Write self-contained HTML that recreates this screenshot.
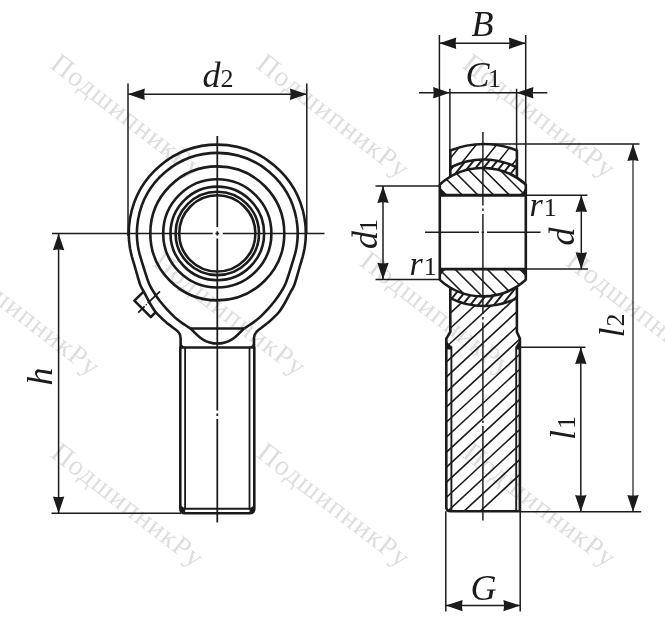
<!DOCTYPE html>
<html lang="ru"><head><meta charset="utf-8"><title>Подшипник</title>
<style>
html,body{margin:0;padding:0;background:#fff;}
body{width:665px;height:633px;overflow:hidden;font-family:"Liberation Serif",serif;}
svg{display:block;will-change:transform;}
</style></head><body>
<svg width="665" height="633" viewBox="0 0 665 633">
<g font-family="'Liberation Serif', serif">
<text x="49" y="67" font-size="28" fill="#dedede" stroke="none" transform="rotate(37.7 49 67)" letter-spacing="1.1">ПодшипникРу</text>
<text x="255" y="67" font-size="28" fill="#dedede" stroke="none" transform="rotate(37.7 255 67)" letter-spacing="1.1">ПодшипникРу</text>
<text x="461" y="67" font-size="28" fill="#dedede" stroke="none" transform="rotate(37.7 461 67)" letter-spacing="1.1">ПодшипникРу</text>
<text x="-54.5" y="265" font-size="28" fill="#dedede" stroke="none" transform="rotate(37.7 -54.5 265)" letter-spacing="1.1">ПодшипникРу</text>
<text x="151.5" y="265" font-size="28" fill="#dedede" stroke="none" transform="rotate(37.7 151.5 265)" letter-spacing="1.1">ПодшипникРу</text>
<text x="358.5" y="264.5" font-size="28" fill="#dedede" stroke="none" transform="rotate(37.7 358.5 264.5)" letter-spacing="1.1">ПодшипникРу</text>
<text x="564.5" y="264.5" font-size="28" fill="#dedede" stroke="none" transform="rotate(37.7 564.5 264.5)" letter-spacing="1.1">ПодшипникРу</text>
<text x="49.5" y="456" font-size="28" fill="#dedede" stroke="none" transform="rotate(37.7 49.5 456)" letter-spacing="1.1">ПодшипникРу</text>
<text x="255.5" y="456" font-size="28" fill="#dedede" stroke="none" transform="rotate(37.7 255.5 456)" letter-spacing="1.1">ПодшипникРу</text>
<text x="461.5" y="456" font-size="28" fill="#dedede" stroke="none" transform="rotate(37.7 461.5 456)" letter-spacing="1.1">ПодшипникРу</text>
</g>
<g stroke="#1c1a1a" fill="none" stroke-linecap="butt" stroke-linejoin="round" font-family="'Liberation Serif', serif">
<path d="M52 233.4H212.8M215.4 233.4H219.2M222.8 233.4H324.5" stroke-width="1.45"/>
<path d="M217.3 136V227M217.3 231.3V235.5M217.3 238.5V410.5M217.3 413.5V416M217.3 419V522.5" stroke-width="1.75"/>
<circle cx="217.3" cy="233.4" r="67" stroke-width="2.6"/>
<circle cx="217.3" cy="233.4" r="54.1" stroke-width="2.6"/>
<circle cx="217.3" cy="233.4" r="46.8" stroke-width="2.6"/>
<circle cx="217.3" cy="233.4" r="41.7" stroke-width="2.6"/>
<circle cx="217.3" cy="233.4" r="38.1" stroke-width="2.6"/>
<path d="M304.5 218.0A88.5 88.5 0 0 0 130.1 218.0C130.0 219.3 129.4 223.1 129.1 225.7C128.9 228.2 128.8 230.8 128.8 233.4C128.8 236.0 128.9 238.6 129.1 241.1C129.4 243.7 129.7 246.2 130.1 248.8C130.6 251.3 130.9 252.8 131.8 256.3C132.8 259.8 134.4 265.2 135.8 270.0C137.2 274.8 138.9 281.3 140.3 285.0C141.7 288.7 142.7 289.4 144.2 292.3C145.7 295.2 147.6 299.2 149.5 302.5C151.4 305.8 153.5 309.3 155.4 311.8C157.3 314.3 159.2 315.8 161.0 317.6C162.8 319.4 164.6 320.9 166.3 322.4C168.1 323.9 169.8 325.1 171.5 326.5C173.2 327.9 175.8 329.8 176.7 330.5Q180.4 333.3 180.6 338 L180.6 347.5" stroke-width="2.6"/>
<path d="M304.5 218.0C304.6 219.3 305.2 223.1 305.5 225.7C305.7 228.2 305.8 230.8 305.8 233.4C305.8 236.0 305.7 238.6 305.5 241.1C305.2 243.7 304.9 246.2 304.5 248.8C304.0 251.3 303.7 252.8 302.8 256.3C301.8 259.8 300.2 265.2 298.8 270.0C297.4 274.8 295.7 281.3 294.3 285.0C292.9 288.7 291.9 289.4 290.4 292.3C288.9 295.2 287.0 299.2 285.1 302.5C283.2 305.8 281.1 309.3 279.2 311.8C277.3 314.3 275.4 315.8 273.6 317.6C271.8 319.4 270.1 320.9 268.3 322.4C266.6 323.9 264.8 325.1 263.1 326.5C261.4 327.9 258.8 329.8 257.9 330.5Q254.2 333.3 254.0 338 L254.0 347.5" stroke-width="2.6"/>
<path d="M296.5 219.4A80.4 80.4 0 0 0 138.1 219.4C138.0 220.6 137.4 224.1 137.2 226.4C137.0 228.7 136.9 231.1 136.9 233.4C136.9 235.7 137.0 238.1 137.2 240.4C137.4 242.7 137.7 245.1 138.1 247.4C138.5 249.7 138.7 250.8 139.6 254.2C140.6 257.6 142.2 263.0 143.8 268.0C145.4 273.0 147.3 279.5 149.2 284.0C151.1 288.5 153.5 291.8 155.4 294.8C157.3 297.8 158.7 299.5 160.5 301.8C162.3 304.1 164.4 306.6 166.3 308.7C168.2 310.8 170.1 312.8 172.0 314.6C173.9 316.5 175.7 318.2 177.7 319.8C179.7 321.4 181.9 322.9 184.0 324.3C186.1 325.8 189.4 327.8 190.5 328.5L244.1 328.5" stroke-width="2.6"/>
<path d="M296.5 219.4C296.6 220.6 297.2 224.1 297.4 226.4C297.6 228.7 297.7 231.1 297.7 233.4C297.7 235.7 297.6 238.1 297.4 240.4C297.2 242.7 296.9 245.1 296.5 247.4C296.1 249.7 295.9 250.8 295.0 254.2C294.0 257.6 292.4 263.0 290.8 268.0C289.2 273.0 287.3 279.5 285.4 284.0C283.5 288.5 281.1 291.8 279.2 294.8C277.3 297.8 275.9 299.5 274.1 301.8C272.3 304.1 270.2 306.6 268.3 308.7C266.4 310.8 264.5 312.8 262.6 314.6C260.7 316.5 258.9 318.2 256.9 319.8C254.9 321.4 252.7 322.9 250.6 324.3C248.5 325.8 245.2 327.8 244.1 328.5" stroke-width="2.6"/>
<path d="M190.5 328.5C196.0 333.2 202.5 343.5 217.3 343.5C232.1 343.5 238.6 333.2 244.1 328.5" stroke-width="2.6"/>
<line x1="179.3" y1="347.5" x2="255.3" y2="347.5" stroke-width="2.6" />
<path d="M180.3 347.5V508.5Q180.3 513.2 185.10000000000002 513.2H249.5Q254.3 513.2 254.3 508.5V347.5" stroke-width="2.6"/>
<path d="M185.10000000000002 347.5V508.7M249.5 347.5V508.7" stroke-width="1.8"/>
<path d="M183.3 508.7H251.3" stroke-width="2"/>
<path d="M180.3 505L185.10000000000002 508.7V513.2H183.3Q180.3 512 180.3 505Z" fill="#1c1a1a" stroke="none"/>
<path d="M254.3 505L249.5 508.7V513.2H251.3Q254.3 512 254.3 505Z" fill="#1c1a1a" stroke="none"/>
<path d="M180.3 339.5Q181.3 346 185.8 347.5H180.3Z" fill="#1c1a1a" stroke="none"/>
<path d="M254.3 339.5Q253.3 346 248.8 347.5H254.3Z" fill="#1c1a1a" stroke="none"/>
<path d="M143.6 291.6L134.4 300.6 150.8 317.2 156.2 311.6" stroke-width="2.6"/>
<path d="M160 291.3L147.8 303.2M144.6 306.4L138.2 312.6" stroke-width="1.8"/>
<circle cx="146.2" cy="304.8" r="0.8" fill="#1c1a1a" stroke="none"/>
<line x1="128.0" y1="83.5" x2="128.0" y2="236.0" stroke-width="1.5" />
<line x1="306.8" y1="83.5" x2="306.8" y2="234.0" stroke-width="1.5" />
<line x1="128.0" y1="94.2" x2="306.8" y2="94.2" stroke-width="1.5" />
<path d="M128.0 94.2L144.8 99.9Q143.6 94.2 144.8 88.5Z" fill="#1c1a1a" stroke="none"/>
<path d="M306.8 94.2L290.0 88.5Q291.2 94.2 290.0 99.9Z" fill="#1c1a1a" stroke="none"/>
<text x="202.5" y="86.6" font-size="36" font-style="italic" fill="#1c1a1a" stroke="none">d<tspan font-style="normal" font-size="26" dx="0">2</tspan></text>
<line x1="58.6" y1="233.4" x2="58.6" y2="513.3" stroke-width="1.5" />
<line x1="51.5" y1="513.3" x2="181.0" y2="513.3" stroke-width="1.5" />
<path d="M58.6 233.4L52.9 250.2Q58.6 249.0 64.3 250.2Z" fill="#1c1a1a" stroke="none"/>
<path d="M58.6 513.3L64.3 496.5Q58.6 497.7 52.9 496.5Z" fill="#1c1a1a" stroke="none"/>
<text x="51.5" y="385.5" font-size="36" font-style="italic" fill="#1c1a1a" stroke="none" transform="rotate(-90 51.5 385.5)">h</text>
<defs>
<clipPath id="cbt"><path d="M439.8 195.29999999999998V184.5A64.3 64.3 0 0 1 525.8 184.5V195.29999999999998Z"/></clipPath>
<clipPath id="cbb"><path d="M439.8 269.09999999999997V279.9A64.3 64.3 0 0 0 525.8 279.9V269.09999999999997Z"/></clipPath>
<clipPath id="clt"><path d="M450.3 177.2V167.5A72.8 72.8 0 0 1 516.9 167.5V177.2A64.3 64.3 0 0 0 450.3 177.2Z"/></clipPath>
<clipPath id="clb"><path d="M450.3 287.2V298.1A73.8 73.8 0 0 0 516.9 298.1V287.2A64.3 64.3 0 0 1 450.3 287.2Z"/></clipPath>
<clipPath id="cht"><path d="M450.3 167.5V150.5A88.2 88.2 0 0 1 516.9 150.5V167.5A72.8 72.8 0 0 0 450.3 167.5Z"/></clipPath>
<clipPath id="chb"><path d="M450.3 298.1V332L446.3 338.6V511.3H519.9V338.6L516.9 332V298.1A73.8 73.8 0 0 1 450.3 298.1Z"/></clipPath>
</defs>
<path d="M335.6 100L795.6 560M351.4 100L811.4 560M367.2 100L827.2 560M382.9 100L842.9 560M398.6 100L858.6 560M414.3 100L874.3 560M430.0 100L890.0 560" stroke-width="1.55" clip-path="url(#cbt)"/>
<path d="M254.0 100L714.0 560M270.0 100L730.0 560M285.8 100L745.8 560M301.7 100L761.7 560M317.9 100L777.9 560M334.5 100L794.5 560M350.5 100L810.5 560" stroke-width="1.55" clip-path="url(#cbb)"/>
<path d="M490.6 100L122.6 560M498.5 100L130.5 560M506.4 100L138.4 560M514.3 100L146.3 560M522.2 100L154.2 560M530.1 100L162.1 560M538.0 100L170.0 560M545.9 100L177.9 560M553.8 100L185.8 560M561.7 100L193.7 560M569.6 100L201.6 560M577.5 100L209.5 560M585.4 100L217.4 560M593.3 100L225.3 560" stroke-width="2.0" clip-path="url(#clt)"/>
<path d="M594.8 100L226.8 560M602.7 100L234.7 560M610.6 100L242.6 560M618.5 100L250.5 560M626.4 100L258.4 560M634.3 100L266.3 560M642.2 100L274.2 560M650.1 100L282.1 560M658.0 100L290.0 560M665.9 100L297.9 560M673.8 100L305.8 560M681.7 100L313.7 560M689.6 100L321.6 560M697.5 100L329.5 560" stroke-width="2.0" clip-path="url(#clb)"/>
<path d="M497.0 100L129.0 560M512.0 100L144.0 560M532.4 100L164.4 560M547.7 100L179.7 560M564.0 100L196.0 560" stroke-width="1.55" clip-path="url(#cht)"/>
<path d="M924.3 100L427.5 560M908.1 100L411.3 560M891.8 100L395.0 560M875.6 100L378.8 560M859.3 100L362.5 560M843.1 100L346.3 560M826.8 100L330.0 560M810.5 100L313.7 560M794.3 100L297.5 560M778.0 100L281.2 560M761.8 100L265.0 560M745.5 100L248.7 560M729.3 100L232.5 560M713.0 100L216.2 560M696.8 100L200.0 560M680.5 100L183.7 560M664.3 100L167.5 560M648.0 100L151.2 560M631.8 100L135.0 560M615.5 100L118.7 560" stroke-width="1.6" clip-path="url(#chb)"/>
<path d="M439.8 184.5A64.3 64.3 0 0 1 525.8 184.5" stroke-width="2.6"/>
<path d="M439.8 279.9A64.3 64.3 0 0 0 525.8 279.9" stroke-width="2.6"/>
<line x1="439.8" y1="184.0" x2="439.8" y2="280.4" stroke-width="2.6" />
<line x1="525.8" y1="184.0" x2="525.8" y2="280.4" stroke-width="2.6" />
<line x1="439.8" y1="195.3" x2="525.8" y2="195.3" stroke-width="2.9" />
<line x1="439.8" y1="269.1" x2="525.8" y2="269.1" stroke-width="2.9" />
<path d="M439.8 195.29999999999998L446.3 195.29999999999998Q442.2 192.5 439.8 187.8Z" fill="#1c1a1a" stroke="none"/>
<path d="M439.8 269.09999999999997L446.3 269.09999999999997Q442.2 271.9 439.8 276.6Z" fill="#1c1a1a" stroke="none"/>
<path d="M525.8 195.29999999999998L519.3 195.29999999999998Q523.4 192.5 525.8 187.8Z" fill="#1c1a1a" stroke="none"/>
<path d="M525.8 269.09999999999997L519.3 269.09999999999997Q523.4 271.9 525.8 276.6Z" fill="#1c1a1a" stroke="none"/>
<path d="M450.3 167.5A72.8 72.8 0 0 1 516.9 167.5" stroke-width="2.6"/>
<path d="M450.3 298.1A73.8 73.8 0 0 0 516.9 298.1" stroke-width="2.6"/>
<path d="M450.3 177.2V150.5A88.2 88.2 0 0 1 516.9 150.5V177.2" stroke-width="2.6"/>
<path d="M450.3 287.2V332L446.3 338.6V506.8Q446.3 511.3 450.8 511.3H519.9V338.6L516.9 332V287.2" stroke-width="2.6"/>
<line x1="451.4" y1="346.4" x2="451.4" y2="510.3" stroke-width="1.9" />
<line x1="516.2" y1="346.4" x2="516.2" y2="510.3" stroke-width="1.9" />
<path d="M446.3 346.4L451.4 346.4M519.9 346.4L516.2 346.4" stroke-width="1.5"/>
<path d="M446.3 341L451.4 346.6V349.5H446.3Z" fill="#1c1a1a" stroke="none"/>
<path d="M519.9 340L516.2 345.5V349.5H519.9Z" fill="#1c1a1a" stroke="none"/>
<path d="M482.9 132V205.5M482.9 208.5V211M482.9 214V314M482.9 317V319.5M482.9 322.5V417.5M482.9 420.5V423M482.9 426V520.5" stroke-width="1.45"/>
<path d="M425 232.2H479M481.7 232.2H484.09999999999997M487 232.2H540.5" stroke-width="1.5"/>
<line x1="439.4" y1="35.0" x2="439.4" y2="184.5" stroke-width="1.5" />
<line x1="525.7" y1="35.0" x2="525.7" y2="184.5" stroke-width="1.5" />
<line x1="439.4" y1="43.2" x2="525.7" y2="43.2" stroke-width="1.5" />
<path d="M439.4 43.2L456.2 48.9Q455.0 43.2 456.2 37.5Z" fill="#1c1a1a" stroke="none"/>
<path d="M525.7 43.2L508.9 37.5Q510.1 43.2 508.9 48.9Z" fill="#1c1a1a" stroke="none"/>
<text x="471.5" y="36.0" font-size="36" font-style="italic" fill="#1c1a1a" stroke="none">B</text>
<line x1="449.9" y1="88.8" x2="449.9" y2="150.5" stroke-width="1.5" />
<line x1="516.6" y1="88.8" x2="516.6" y2="150.5" stroke-width="1.5" />
<line x1="419.0" y1="92.8" x2="547.3" y2="92.8" stroke-width="1.5" />
<path d="M449.9 92.8L433.1 87.1Q434.3 92.8 433.1 98.5Z" fill="#1c1a1a" stroke="none"/>
<path d="M516.6 92.8L533.4 98.5Q532.2 92.8 533.4 87.1Z" fill="#1c1a1a" stroke="none"/>
<text x="465.5" y="86.5" font-size="36" font-style="italic" fill="#1c1a1a" stroke="none">C<tspan font-style="normal" font-size="26" dx="-1.5">1</tspan></text>
<line x1="375.5" y1="186.1" x2="439.8" y2="186.1" stroke-width="1.5" />
<line x1="375.5" y1="279.5" x2="439.8" y2="279.5" stroke-width="1.5" />
<line x1="383.0" y1="186.1" x2="383.0" y2="279.5" stroke-width="1.5" />
<path d="M383.0 186.1L377.3 202.9Q383.0 201.7 388.7 202.9Z" fill="#1c1a1a" stroke="none"/>
<path d="M383.0 279.5L388.7 262.7Q383.0 263.9 377.3 262.7Z" fill="#1c1a1a" stroke="none"/>
<text x="376.5" y="249.0" font-size="36" font-style="italic" fill="#1c1a1a" stroke="none" transform="rotate(-90 376.5 249.0)">d<tspan font-style="normal" font-size="26" dx="-1">1</tspan></text>
<line x1="525.8" y1="195.3" x2="587.5" y2="195.3" stroke-width="1.5" />
<line x1="525.8" y1="269.1" x2="588.0" y2="269.1" stroke-width="1.5" />
<line x1="581.3" y1="195.3" x2="581.3" y2="269.1" stroke-width="1.5" />
<path d="M581.3 195.3L575.6 212.1Q581.3 210.9 587.0 212.1Z" fill="#1c1a1a" stroke="none"/>
<path d="M581.3 269.1L587.0 252.3Q581.3 253.5 575.6 252.3Z" fill="#1c1a1a" stroke="none"/>
<text x="573.5" y="245.5" font-size="36" font-style="italic" fill="#1c1a1a" stroke="none" transform="rotate(-90 573.5 245.5)">d</text>
<text x="529.5" y="216.2" font-size="34" font-style="italic" fill="#1c1a1a" stroke="none">r<tspan font-style="normal" font-size="26" dx="1">1</tspan></text>
<text x="409.5" y="274.7" font-size="34" font-style="italic" fill="#1c1a1a" stroke="none">r<tspan font-style="normal" font-size="26" dx="1">1</tspan></text>
<line x1="482.9" y1="144.1" x2="639.5" y2="144.1" stroke-width="1.5" />
<line x1="633.0" y1="144.1" x2="633.0" y2="511.8" stroke-width="1.2" />
<path d="M633.0 144.1L627.3 160.9Q633.0 159.7 638.7 160.9Z" fill="#1c1a1a" stroke="none"/>
<path d="M633.0 511.8L638.7 495.0Q633.0 496.2 627.3 495.0Z" fill="#1c1a1a" stroke="none"/>
<text x="624.3" y="337.5" font-size="36" font-style="italic" fill="#1c1a1a" stroke="none" transform="rotate(-90 624.3 337.5)">l<tspan font-style="normal" font-size="26" dx="1">2</tspan></text>
<line x1="519.9" y1="347.2" x2="585.5" y2="347.2" stroke-width="1.5" />
<line x1="580.8" y1="347.2" x2="580.8" y2="511.8" stroke-width="1.5" />
<path d="M580.8 347.2L575.1 364.0Q580.8 362.8 586.5 364.0Z" fill="#1c1a1a" stroke="none"/>
<path d="M580.8 511.8L586.5 495.0Q580.8 496.2 575.1 495.0Z" fill="#1c1a1a" stroke="none"/>
<text x="575.0" y="440.0" font-size="36" font-style="italic" fill="#1c1a1a" stroke="none" transform="rotate(-90 575.0 440.0)">l<tspan font-style="normal" font-size="26" dx="1">1</tspan></text>
<line x1="519.9" y1="511.8" x2="641.3" y2="511.8" stroke-width="1.5" />
<line x1="445.8" y1="511.3" x2="445.8" y2="611.6" stroke-width="1.5" />
<line x1="520.2" y1="511.3" x2="520.2" y2="611.6" stroke-width="1.5" />
<line x1="445.8" y1="605.6" x2="520.2" y2="605.6" stroke-width="1.5" />
<path d="M445.8 605.6L462.6 611.3Q461.4 605.6 462.6 599.9Z" fill="#1c1a1a" stroke="none"/>
<path d="M520.2 605.6L503.4 599.9Q504.6 605.6 503.4 611.3Z" fill="#1c1a1a" stroke="none"/>
<text x="470.5" y="599.6" font-size="36" font-style="italic" fill="#1c1a1a" stroke="none">G</text>
</g>
</svg>
</body></html>
